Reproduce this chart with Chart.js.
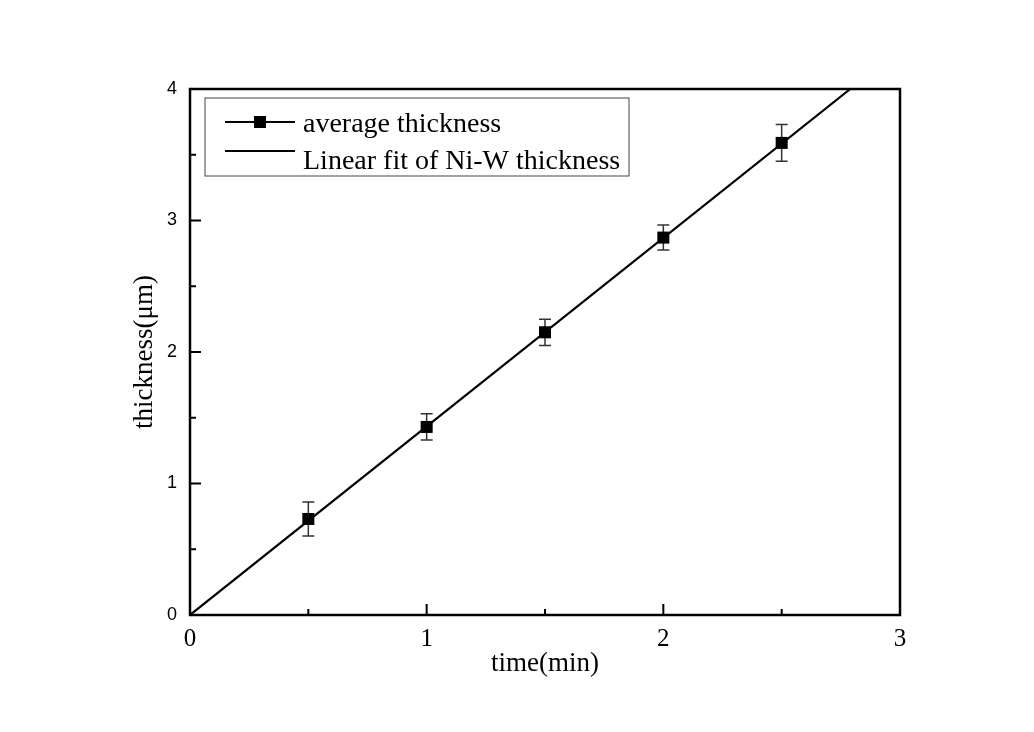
<!DOCTYPE html>
<html>
<head>
<meta charset="utf-8">
<script src="https://cdn.jsdelivr.net/npm/chart.js@4.4.1/dist/chart.umd.min.js"></script>
<style>
  html, body { margin: 0; padding: 0; background: #fff; }
  #wrap { position: relative; width: 1034px; height: 732px; }
</style>
</head>
<body>
<div id="wrap"><canvas id="thicknessChart"></canvas></div>
<script>
// measured values
const time = [0.5, 1, 1.5, 2, 2.5];
const thickness = [0.73, 1.43, 2.15, 2.87, 3.59];
const thicknessErr = [0.13, 0.1, 0.1, 0.095, 0.14];

// linear fit end points
const fitTime = [0, 2.79];
const fitThickness = [0, 4.0];

// axis ticks
const xTicks = [0, 1, 2, 3];
const xMinorTicks = [0.5, 1.5, 2.5];
const yTicks = [0, 1, 2, 3, 4];
const yMinorTicks = [0.5, 1.5, 2.5, 3.5];

const legendLabels = ["average thickness", "Linear fit of Ni-W thickness"];

const serif = "'Liberation Serif', 'Times New Roman', serif";

// frame, inward ticks, error bars and the boxed legend, Origin style
const originStyle = {
  id: "originStyle",
  beforeDraw(chart) {
    const ctx = chart.ctx;
    ctx.save();
    ctx.fillStyle = "#fff";
    ctx.fillRect(0, 0, chart.width, chart.height);
    ctx.restore();
  },
  beforeDatasetsDraw(chart) {
    const ctx = chart.ctx;
    const xs = chart.scales.x;
    const ys = chart.scales.y;
    ctx.save();
    ctx.strokeStyle = "#333";
    ctx.lineWidth = 1.5;
    time.forEach((t, i) => {
      const px = xs.getPixelForValue(t);
      const top = ys.getPixelForValue(thickness[i] + thicknessErr[i]);
      const bot = ys.getPixelForValue(thickness[i] - thicknessErr[i]);
      ctx.beginPath();
      ctx.moveTo(px, top);
      ctx.lineTo(px, bot);
      ctx.moveTo(px - 6, top);
      ctx.lineTo(px + 6, top);
      ctx.moveTo(px - 6, bot);
      ctx.lineTo(px + 6, bot);
      ctx.stroke();
    });
    ctx.restore();
  },
  afterDraw(chart) {
    const ctx = chart.ctx;
    const area = chart.chartArea;
    const xs = chart.scales.x;
    const ys = chart.scales.y;
    ctx.save();
    ctx.strokeStyle = "#000";

    // ticks pointing inward
    ctx.lineWidth = 2;
    ctx.beginPath();
    xTicks.forEach((v) => {
      const px = xs.getPixelForValue(v);
      ctx.moveTo(px, area.bottom);
      ctx.lineTo(px, area.bottom - 11);
    });
    xMinorTicks.forEach((v) => {
      const px = xs.getPixelForValue(v);
      ctx.moveTo(px, area.bottom);
      ctx.lineTo(px, area.bottom - 6);
    });
    yTicks.forEach((v) => {
      const py = ys.getPixelForValue(v);
      ctx.moveTo(area.left, py);
      ctx.lineTo(area.left + 11, py);
    });
    yMinorTicks.forEach((v) => {
      const py = ys.getPixelForValue(v);
      ctx.moveTo(area.left, py);
      ctx.lineTo(area.left + 6, py);
    });
    ctx.stroke();

    // frame
    ctx.lineWidth = 2.5;
    ctx.strokeRect(area.left, area.top, area.right - area.left, area.bottom - area.top);

    // legend box
    const lx = area.left + 15;
    const ly = area.top + 9;
    ctx.lineWidth = 1;
    ctx.strokeStyle = "#444";
    ctx.strokeRect(lx, ly, 424, 78);

    ctx.strokeStyle = "#000";
    ctx.lineWidth = 2;
    ctx.beginPath();
    ctx.moveTo(lx + 20, ly + 24);
    ctx.lineTo(lx + 90, ly + 24);
    ctx.moveTo(lx + 20, ly + 53);
    ctx.lineTo(lx + 90, ly + 53);
    ctx.stroke();
    ctx.fillStyle = "#000";
    ctx.fillRect(lx + 49, ly + 18, 12, 12);

    ctx.font = "28px " + serif;
    ctx.textBaseline = "alphabetic";
    ctx.textAlign = "left";
    ctx.fillText(legendLabels[0], lx + 98, ly + 34);
    ctx.fillText(legendLabels[1], lx + 98, ly + 71);
    ctx.restore();
  },
};

const ctx = document.getElementById("thicknessChart");

new Chart(ctx, {
  type: "scatter",
  data: {
    datasets: [
      {
        label: legendLabels[1],
        data: fitTime.map((t, i) => ({ x: t, y: fitThickness[i] })),
        showLine: true,
        borderColor: "#000",
        borderWidth: 2.2,
        pointRadius: 0,
        fill: false,
      },
      {
        label: legendLabels[0],
        data: time.map((t, i) => ({ x: t, y: thickness[i] })),
        showLine: false,
        pointStyle: "rect",
        pointRadius: 8.5,
        backgroundColor: "#000",
        borderColor: "#000",
        borderWidth: 0,
      },
    ],
  },
  options: {
    responsive: true,
    maintainAspectRatio: false,
    animation: false,
    layout: {
      padding: { left: 120, top: 89, right: 134, bottom: 0 },
    },
    plugins: {
      legend: { display: false },
      tooltip: { enabled: false },
    },
    scales: {
      x: {
        type: "linear",
        min: 0,
        max: 3,
        afterBuildTicks: (scale) => {
          scale.ticks = xTicks.map((v) => ({ value: v }));
        },
        afterFit: (scale) => {
          scale.height = 117;
        },
        grid: { display: false },
        border: { display: false },
        ticks: {
          padding: 1,
          color: "#000",
          font: { family: serif, size: 25 },
        },
        title: {
          display: true,
          text: "time(min)",
          color: "#000",
          font: { family: serif, size: 27 },
          padding: { top: 0, bottom: 52 },
        },
      },
      y: {
        type: "linear",
        min: 0,
        max: 4,
        afterBuildTicks: (scale) => {
          scale.ticks = yTicks.map((v) => ({ value: v }));
        },
        afterFit: (scale) => {
          scale.width = 70;
        },
        grid: { display: false },
        border: { display: false },
        ticks: {
          padding: 5,
          color: "#000",
          font: { family: "'Liberation Sans', Arial, sans-serif", size: 18 },
        },
        title: {
          display: true,
          text: "thickness(μm)",
          color: "#000",
          font: { family: serif, size: 27 },
          padding: { top: 9, bottom: 0 },
        },
      },
    },
  },
  plugins: [originStyle],
});
</script>
</body>
</html>
